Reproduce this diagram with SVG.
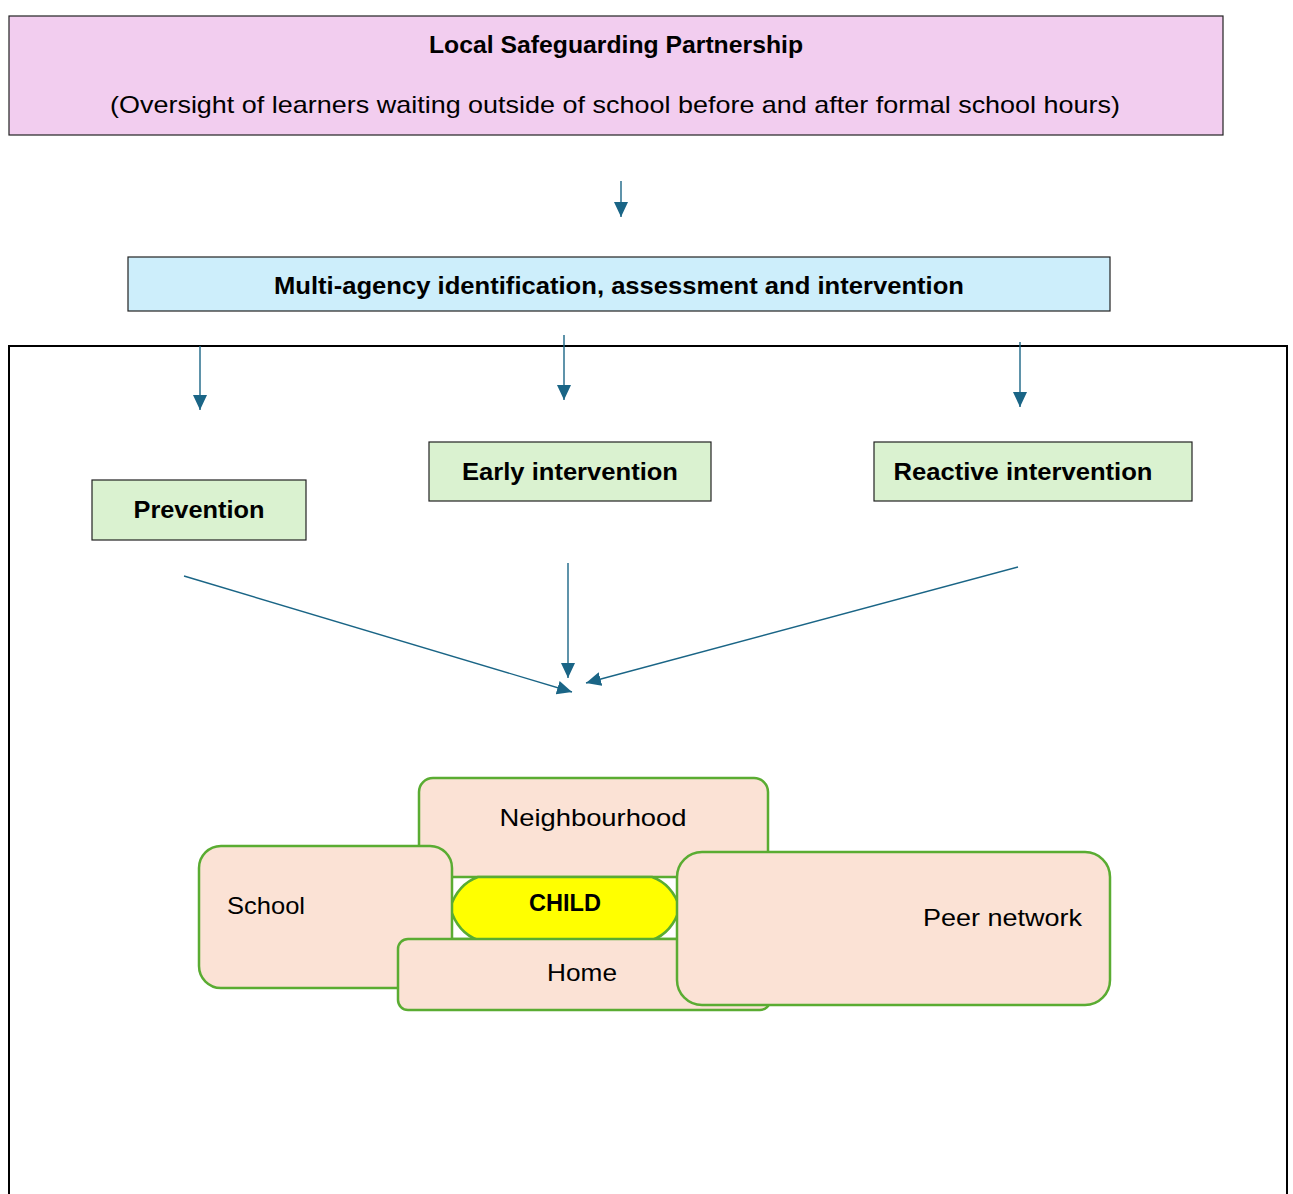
<svg xmlns="http://www.w3.org/2000/svg" width="1293" height="1194" viewBox="0 0 1293 1194">
<style>
text{font-family:"Liberation Sans",Arial,sans-serif;fill:#000;font-size:24px}
.b{font-weight:bold}
.box{stroke:#222;stroke-width:1.2}
.ctx{fill:#fbe2d5;stroke:#5aac32;stroke-width:2.5}
.con{stroke:#1a6586;stroke-width:1.4;fill:none;marker-end:url(#ah)}
</style>
<defs>
<marker id="ah" markerUnits="userSpaceOnUse" markerWidth="16" markerHeight="14" refX="15" refY="7" orient="auto">
<path d="M0,0 L15,7 L0,14 Z" fill="#1a6586"/>
</marker>
</defs>
<rect width="1293" height="1194" fill="#fff"/>
<g id="partnership">
<rect class="box" x="9" y="16" width="1214" height="119" fill="#f2cdef"/>
<text class="b" x="616" y="53" text-anchor="middle" textLength="374" lengthAdjust="spacingAndGlyphs">Local Safeguarding Partnership</text>
<text x="615" y="113" text-anchor="middle" textLength="1010" lengthAdjust="spacingAndGlyphs">(Oversight of learners waiting outside of school before and after formal school hours)</text>
</g>
<g id="multiagency">
<rect class="box" x="128" y="257" width="982" height="54" fill="#cdeefb"/>
<text class="b" x="619" y="294" text-anchor="middle" textLength="690" lengthAdjust="spacingAndGlyphs">Multi-agency identification, assessment and intervention</text>
</g>
<g id="frame">
<rect x="9" y="346" width="1278" height="900" fill="none" stroke="#000" stroke-width="2"/>
</g>
<g id="prevention">
<rect class="box" x="92" y="480" width="214" height="60" fill="#daf2d0"/>
<text class="b" x="199" y="518" text-anchor="middle" textLength="131" lengthAdjust="spacingAndGlyphs">Prevention</text>
</g>
<g id="early">
<rect class="box" x="429" y="442" width="282" height="59" fill="#daf2d0"/>
<text class="b" x="570" y="480" text-anchor="middle" textLength="216" lengthAdjust="spacingAndGlyphs">Early intervention</text>
</g>
<g id="reactive">
<rect class="box" x="874" y="442" width="318" height="59" fill="#daf2d0"/>
<text class="b" x="1023" y="480" text-anchor="middle" textLength="259" lengthAdjust="spacingAndGlyphs">Reactive intervention</text>
</g>
<g id="connectors">
<line class="con" x1="621" y1="181" x2="621" y2="217"/>
<line class="con" x1="200" y1="346" x2="200" y2="410"/>
<line class="con" x1="564" y1="335" x2="564" y2="400"/>
<line class="con" x1="1020" y1="342" x2="1020" y2="407"/>
<line class="con" x1="184" y1="576" x2="572" y2="692"/>
<line class="con" x1="568" y1="563" x2="568" y2="678"/>
<line class="con" x1="1018" y1="567" x2="586" y2="683"/>
</g>
<g id="neighbourhood">
<rect class="ctx" x="419" y="778" width="349" height="150" rx="14"/>
<text x="593" y="826" text-anchor="middle" textLength="187" lengthAdjust="spacingAndGlyphs">Neighbourhood</text>
</g>
<g id="gap">
<rect x="451" y="877" width="228" height="62" fill="#fff" stroke="#5aac32" stroke-width="2.5"/>
</g>
<g id="child">
<path d="M478,877 H652 Q672,884 680,908 Q672,933 652,940 H478 Q458,933 450,908 Q458,884 478,877 Z" fill="#ffff00" stroke="#5aac32" stroke-width="2.5"/>
<text class="b" x="565" y="911" text-anchor="middle" textLength="72" lengthAdjust="spacingAndGlyphs">CHILD</text>
</g>
<g id="school">
<rect class="ctx" x="199" y="846" width="253" height="142" rx="22"/>
<text x="227" y="914" textLength="78" lengthAdjust="spacingAndGlyphs">School</text>
</g>
<g id="home">
<rect class="ctx" x="398" y="939" width="372" height="71" rx="10"/>
<text x="582" y="981" text-anchor="middle" textLength="70" lengthAdjust="spacingAndGlyphs">Home</text>
</g>
<g id="peer">
<rect class="ctx" x="677" y="852" width="433" height="153" rx="25"/>
<text x="1082" y="926" text-anchor="end" textLength="159" lengthAdjust="spacingAndGlyphs">Peer network</text>
</g>
</svg>
